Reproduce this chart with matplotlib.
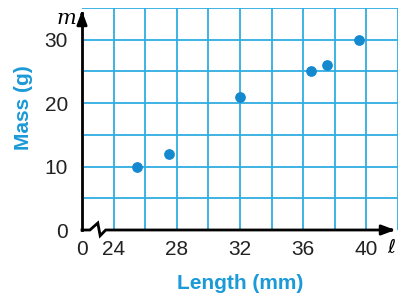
import numpy as np
import matplotlib
matplotlib.use("Agg")
import matplotlib.pyplot as plt

# data
length_mm = [25.5, 27.5, 32, 36.5, 37.5, 39.5]
mass_g = [10, 12, 21, 25, 26, 30]

x_ticks = [22, 24, 28, 32, 36, 40]
x_ticklabels = ['0', '24', '28', '32', '36', '40']
y_ticks = [0, 10, 20, 30]

blue = '#1b9ad8'
gridblue = '#2eaee3'
font = ['Liberation Sans', 'DejaVu Sans']

fig = plt.figure(figsize=(4.05, 3.01), dpi=100)
ax = fig.add_axes([82/405, (301-230)/301, (398-82)/405, (230-8)/301])
ax.set_xlim(22, 42)
ax.set_ylim(0, 35)

# grid
ax.vlines(np.arange(24, 43, 2), 0, 35, color=gridblue, lw=1.3, zorder=1)
ax.hlines(np.arange(5, 36, 5), 22, 42, color=gridblue, lw=1.3, zorder=1)

for s in ax.spines.values():
    s.set_visible(False)

# axes with break
bx = [22, 22.5, 23.0, 23.15, 23.5, 41.6]
by = [0, 0, 1.1, -0.9, 0, 0]
ax.plot(bx, by, color='black', lw=2.0, clip_on=False, zorder=3,
        solid_joinstyle='miter')
ax.plot([22, 22], [0, 34.2], color='black', lw=2.0, clip_on=False, zorder=3)
ax.annotate('', xy=(42.0, 0), xytext=(41.2, 0),
            arrowprops=dict(arrowstyle='-|>,head_length=0.8,head_width=0.3',
                            color='black', lw=2), annotation_clip=False)
ax.annotate('', xy=(22, 35.0), xytext=(22, 33.5),
            arrowprops=dict(arrowstyle='-|>,head_length=0.8,head_width=0.3',
                            color='black', lw=2), annotation_clip=False)

ax.scatter(length_mm, mass_g, s=45, color='#1589cf', zorder=4, clip_on=False)

ax.set_xticks(x_ticks)
ax.set_xticklabels(x_ticklabels, fontsize=15, family=font)
ax.set_yticks(y_ticks)
ax.set_yticklabels([str(v) for v in y_ticks], fontsize=15, family=font)
ax.tick_params(length=0, pad=10, colors='#222222')
ax.tick_params(axis='x', pad=7)

ax.set_xlabel('Length (mm)', fontsize=15, fontweight='bold', color=blue,
              family=font, labelpad=11)
ax.set_ylabel('Mass (g)', fontsize=15, fontweight='bold', color=blue,
              family=font)
ax.yaxis.set_label_coords(-0.155, 0.55)

ax.text(21.0, 33.4, 'm', fontsize=15, style='italic', family='DejaVu Serif',
        ha='center', va='center')
ax.text(41.6, -2.8, r'$\ell$', fontsize=14, ha='center', va='center')

fig.savefig('out.png', dpi=100)
